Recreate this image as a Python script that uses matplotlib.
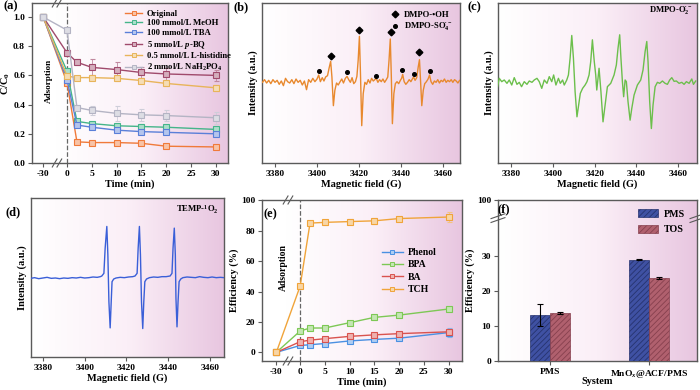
import numpy as np
import matplotlib.pyplot as plt
from matplotlib.colors import LinearSegmentedColormap, to_rgb
from matplotlib.lines import Line2D
from matplotlib.patches import Patch

W, H = 700, 390

# ---- (a) quenching tests ----
t_min = [-30, 0, 2, 5, 10, 15, 20, 30]
quench_labels = ['Original', '100 mmol/L MeOH', '100 mmol/L TBA',
                 r'5 mmol/L $\it{p}$-BQ', '0.5 mmol/L L-histidine',
                 r'2 mmol/L NaH$_2$PO$_4$']
c_original = [1.0, 0.55, 0.145, 0.14, 0.14, 0.135, 0.115, 0.11]
c_meoh = [1.0, 0.63, 0.285, 0.27, 0.255, 0.25, 0.245, 0.23]
c_tba = [1.0, 0.57, 0.26, 0.245, 0.225, 0.215, 0.21, 0.20]
c_pbq = [1.0, 0.755, 0.69, 0.655, 0.64, 0.62, 0.61, 0.60]
c_hist = [1.0, 0.595, 0.585, 0.585, 0.58, 0.565, 0.545, 0.515]
c_nah = [1.0, 0.91, 0.38, 0.36, 0.34, 0.33, 0.325, 0.31]
e_original = [0, 0.02, 0.01, 0.01, 0.01, 0.01, 0.01, 0.015]
e_meoh = [0, 0.02, 0.01, 0.01, 0.015, 0.015, 0.015, 0.015]
e_tba = [0, 0.02, 0.01, 0.01, 0.01, 0.01, 0.01, 0.01]
e_pbq = [0, 0.02, 0.02, 0.055, 0.05, 0.04, 0.04, 0.04]
e_hist = [0, 0.02, 0.01, 0.01, 0.015, 0.015, 0.015, 0.02]
e_nah = [0, 0.02, 0.015, 0.03, 0.05, 0.04, 0.04, 0.04]
quench_colors = ['#f07a3a', '#45b58a', '#5a7fd8', '#a04a6c', '#e8b45a', '#b4b4c4']

time_ticks = [-30, 0, 5, 10, 15, 20, 25, 30]

# ---- (b) DMPO-OH / DMPO-SO4 ----
b_field = [3374.0, 3375.0, 3376.0, 3377.0, 3378.0, 3379.0, 3380.0, 3381.0, 3382.0, 3383.0,
           3384.0, 3385.0, 3386.0, 3387.0, 3388.0, 3389.0, 3390.0, 3391.0, 3392.0, 3393.0,
           3394.0, 3395.0, 3396.0, 3397.0, 3398.0, 3399.0, 3400.0, 3400.8, 3401.6, 3402.5,
           3403.3, 3404.1, 3405.0, 3405.8, 3406.5, 3407.1, 3407.8, 3408.5, 3409.3, 3410.1,
           3411.0, 3411.8, 3412.6, 3413.5, 3414.3, 3415.1, 3415.9, 3416.7, 3417.5, 3418.3,
           3419.0, 3419.6, 3420.2, 3420.7, 3421.3, 3422.0, 3422.8, 3423.6, 3424.4, 3425.2,
           3426.0, 3426.8, 3427.5, 3428.2, 3429.0, 3429.8, 3430.6, 3431.4, 3432.2, 3433.0,
           3433.7, 3434.3, 3434.9, 3435.4, 3435.9, 3436.6, 3437.3, 3438.1, 3438.9, 3439.7,
           3440.3, 3440.8, 3441.5, 3442.3, 3443.1, 3443.9, 3444.7, 3445.4, 3446.0, 3446.7,
           3447.5, 3448.2, 3448.8, 3449.3, 3449.9, 3450.6, 3451.3, 3452.1, 3452.9, 3453.6,
           3454.3, 3455.1, 3455.9, 3456.7, 3457.5, 3458.3, 3459.1, 3459.9, 3460.7, 3461.5,
           3462.3, 3463.1, 3463.9, 3464.7, 3465.5, 3466.3, 3467.1, 3467.9, 3468.7]
b_int = [-6, 2, -8, 0, -10, 2, -6, 0, -12, -2,
         -16, 6, -4, -8, 2, -10, 4, -6, 0, -14,
         -2, -28, 2, -6, 6, -4, 4, 16, -4, 8,
         -2, 10, 14, 38, 57, 10, -76, -30, -8, -14,
         -4, 4, -8, 6, 12, 2, -6, 8, -10, -4,
         12, 60, 132, 20, -136, -40, -6, -12, 2, -8,
         6, -2, 2, 6, -6, 2, -4, 4, -6, 2,
         10, 60, 124, 10, -130, -40, -10, -4, -10, 0,
         6, 18, -4, -12, -6, 2, -4, 4, 10, 0,
         8, 40, 62, 0, -76, -30, -10, -4, 4, 16,
         -4, -12, -2, -6, 2, -8, 0, -4, 4, -6,
         0, -4, 2, -6, 2, -2, -8, 0, -2]
oh_field = [3406.5, 3420.2, 3435.0, 3448.7]
oh_int = [72, 152, 146, 84]
so4_field = [3401.1, 3414.2, 3428.2, 3440.7, 3446.0, 3453.6]
so4_int = [28, 26, 14, 30, 20, 28]

# ---- (c) DMPO-O2 ----
c_field = [3373.4, 3374.2, 3375.4, 3376.6, 3377.9, 3379.0, 3380.2, 3381.4, 3382.7, 3383.8,
           3384.9, 3386.2, 3387.5, 3388.6, 3389.9, 3391.0, 3392.3, 3393.4, 3394.6, 3395.8,
           3397.1, 3398.2, 3399.4, 3400.3, 3401.4, 3402.6, 3403.5, 3404.6, 3405.4, 3406.6, 3407.4,
           3408.2, 3409.0, 3409.8, 3410.6, 3411.5, 3412.3, 3413.1, 3414.2, 3415.4, 3416.3,
           3417.3, 3418.1, 3418.9, 3419.8, 3420.5, 3421.0, 3422.1, 3423.0, 3424.0, 3425.0,
           3426.1, 3427.7, 3429.3, 3430.4, 3431.2, 3432.0, 3432.6, 3433.3, 3433.9, 3434.6,
           3435.2, 3436.0, 3437.0, 3437.8, 3438.9, 3440.5, 3442.1, 3443.2, 3444.2, 3445.0,
           3445.6, 3446.4, 3447.2, 3448.0, 3449.0, 3450.1, 3451.2, 3452.5, 3453.8, 3454.9,
           3456.0, 3457.0, 3458.1, 3459.2, 3460.5, 3461.8, 3462.9, 3464.0, 3465.3, 3466.6,
           3467.4, 3468.5]
c_int = [-18, 7, -3, 2, -8, 2, -13, 9, -11, -5,
         -18, -3, -11, -1, -5, 2, 7, -3, -23, 2,
         -8, 12, -3, 17, -13, 7, -8, 2, -13, 2, 17,
         67, 135, 67, -33, -108, -73, -38, -23, -13, -3,
         17, 57, 122, 57, 17, -28, 37, -33, -123, -73,
         -18, -8, 17, 47, 97, 137, 67, -3, -48, 2,
         -3, -63, -118, -83, -43, -13, 2, 32, 87, 117,
         57, -63, -143, -73, -18, -5, -8, -1, -8, -11,
         2, 9, -2, -1, -8, -5, -11, -3, -8, 5,
         -11, -1]

# ---- (d) TEMP-1O2 ----
d_field = [3374.3, 3376, 3378, 3380, 3382, 3384, 3386, 3388, 3390, 3392,
           3394, 3396, 3398, 3400, 3402, 3404, 3406, 3407.5, 3408.2, 3409.2,
           3409.8, 3410.6, 3411.1, 3411.6, 3412.2, 3412.7, 3413.1, 3413.9, 3415, 3417,
           3419, 3421, 3423, 3424.1, 3425.1, 3425.6, 3426.2, 3426.7, 3427.2, 3427.8,
           3428.3, 3428.8, 3429.6, 3431, 3433, 3435, 3437, 3439, 3440.9, 3441.8,
           3442.3, 3442.9, 3443.4, 3443.7, 3444.2, 3444.7, 3445.2, 3446.0, 3447, 3449,
           3451, 3453, 3455, 3457, 3459, 3461, 3463, 3465, 3466.7]
d_int = [0, 2, -1, 1, 3, 0, 1, -1, 1, 0,
         2, 1, 3, 1, 2, 4, 3, 5, 7, 15,
         90, 155, 70, -70, -148, -70, -10, -2, 1, 3,
         2, 4, 5, 7, 15, 90, 155, 70, -70, -150,
         -70, -10, -2, 2, 4, 3, 5, 5, 7, 15,
         90, 150, 70, -60, -145, -70, -10, -2, 2, 4,
         3, 2, 5, 3, 2, 4, 2, 3, 2]

# ---- (e) pollutant removal ----
eff_labels = ['Phenol', 'BPA', 'BA', 'TCH']
eff_phenol = [0, 4.5, 5.0, 5.8, 7.5, 8.5, 9.3, 13.0]
eff_bpa = [0, 14.0, 16.0, 16.0, 19.5, 23.0, 24.5, 28.5]
eff_ba = [0, 7.0, 8.0, 9.0, 10.5, 11.5, 12.3, 13.5]
eff_tch = [0, 43.5, 85.0, 85.5, 86.0, 86.5, 88.0, 89.0]
err_phenol = [0.5, 1.0, 0.8, 0.8, 0.8, 0.8, 0.8, 3.0]
err_bpa = [0.5, 1.5, 1.0, 1.0, 1.0, 1.5, 1.0, 1.0]
err_ba = [0.5, 1.5, 1.5, 1.0, 1.0, 1.0, 1.0, 1.5]
err_tch = [0.5, 1.0, 1.5, 1.5, 1.5, 2.0, 1.0, 3.0]
eff_colors = ['#4a90e2', '#7dc855', '#d9534f', '#f0a43a']

# ---- (f) TOS vs PMS ----
systems = ['PMS', r'MnO$_x$@ACF/PMS']
bar_pms = [13.2, 29.1]
bar_pms_err = [3.2, 0.2]
bar_tos = [13.8, 23.8]
bar_tos_err = [0.2, 0.2]

plt.rcParams['font.family'] = ['Liberation Serif', 'DejaVu Serif']
plt.rcParams['font.weight'] = 'bold'
plt.rcParams['axes.labelweight'] = 'bold'
plt.rcParams['mathtext.fontset'] = 'custom'
plt.rcParams['mathtext.rm'] = 'Liberation Serif:bold'
plt.rcParams['mathtext.it'] = 'Liberation Serif:italic:bold'
plt.rcParams['mathtext.bf'] = 'Liberation Serif:bold'
plt.rcParams['hatch.linewidth'] = 0.6
plt.rcParams['axes.edgecolor'] = '#5a5a5a'
plt.rcParams['axes.linewidth'] = 1.0
plt.rcParams['xtick.color'] = '#5a5a5a'
plt.rcParams['ytick.color'] = '#5a5a5a'
plt.rcParams['xtick.labelcolor'] = 'black'
plt.rcParams['ytick.labelcolor'] = 'black'
plt.rcParams['xtick.labelsize'] = 6.8
plt.rcParams['ytick.labelsize'] = 6.8
plt.rcParams['axes.labelsize'] = 7.4
plt.rcParams['xtick.major.size'] = 3
plt.rcParams['ytick.major.size'] = 3
plt.rcParams['xtick.major.pad'] = 2
plt.rcParams['ytick.major.pad'] = 2

bg_cmap = LinearSegmentedColormap.from_list('bg', ['#ffffff', '#fbeff7', '#e8c6e0'])


def add_ax(fig, l, t, r, b):
    return fig.add_axes([l / W, 1 - b / H, (r - l) / W, (b - t) / H])


def shade(ax, start=0.0):
    g = np.linspace(0, 1, 256)
    g = np.clip((g - start) / (1 - start), 0, 1).reshape(1, -1)
    ax.imshow(g, cmap=bg_cmap, aspect='auto', extent=(0, 1, 0, 1),
              transform=ax.transAxes, zorder=0, interpolation='bilinear')


def tpos(t):
    # squeeze the -30..0 adsorption stage like the broken axis
    t = np.asarray(t, dtype=float)
    return np.where(t < 0, t * 0.16, t)


def tint(c, f=0.55):
    r, g, b = to_rgb(c)
    return (r + (1 - r) * f, g + (1 - g) * f, b + (1 - b) * f)


def slashes(ax, xf, yf, horiz=True):
    d = 0.012
    for off in (-0.012, 0.012):
        if horiz:
            ax.plot([xf + off - d, xf + off + d], [yf - 0.025, yf + 0.025],
                    transform=ax.transAxes, color='#5a5a5a', lw=0.8, clip_on=False, zorder=5)
        else:
            ax.plot([xf - 0.035, xf + 0.035], [yf + off - 0.015, yf + off + 0.015],
                    transform=ax.transAxes, color='#5a5a5a', lw=0.8, clip_on=False, zorder=5)


def ptext(fig, x, y, s, **kw):
    fig.text(x / W, 1 - y / H, s, va='center', **kw)


fig = plt.figure(figsize=(7, 3.9), dpi=100)

# (a)
ax = add_ax(fig, 32, 3, 228, 163)
shade(ax, 0.12)
series = [c_original, c_meoh, c_tba, c_pbq, c_hist, c_nah]
errs = [e_original, e_meoh, e_tba, e_pbq, e_hist, e_nah]
handles = []
for y, e, c, lab in zip(series, errs, quench_colors, quench_labels):
    ax.errorbar(tpos(t_min), y, yerr=e, color=c, lw=1.0, marker='s', ms=4.2,
                mfc=tint(c), mec=c, mew=0.8, capsize=1.8, elinewidth=0.6,
                ecolor=tint(c, 0.35), zorder=3)
    handles.append(Line2D([], [], color=c, lw=1.0, marker='s', ms=3.5, mfc=tint(c), mec=c, mew=0.7))
ax.axvline(0, ls='--', color='#666666', lw=0.9, zorder=2)
ax.text(-3.6, 0.56, 'Adsorption', rotation=90, ha='center', va='center', fontsize=6.6)
ax.set_xlim(-7.06, 32.46)
ax.set_ylim(0, 1.096)
ax.set_xticks(tpos(time_ticks))
ax.set_xticklabels([str(v) for v in time_ticks])
ax.set_yticks(np.arange(0, 1.01, 0.2))
ax.set_yticklabels(['%.1f' % v for v in np.arange(0, 1.01, 0.2)])
ax.set_xlabel('Time (min)', labelpad=1)
ax.set_ylabel(r'C/C$_0$', labelpad=1)
ax.legend(handles, quench_labels, loc='upper left', bbox_to_anchor=(0.44, 1.0),
          frameon=False, fontsize=6.2, labelspacing=0.18, handlelength=2.0,
          handletextpad=0.5, borderpad=0.3)
slashes(ax, (57 - 32) / 196, 1.0)
slashes(ax, (57 - 32) / 196, 0.0)

# (b)
ax = add_ax(fig, 262, 3, 460, 163)
shade(ax)
ax.plot(b_field, b_int, color='#e8892e', lw=1.0, zorder=3)
ax.plot(oh_field, oh_int, ls='none', marker='D', ms=3.4, color='black', zorder=4)
ax.plot(so4_field, so4_int, ls='none', marker='o', ms=2.6, color='black', zorder=4)
ax.set_xlim(3373.8, 3468.1)
ax.set_ylim(-248, 232)
ax.set_xticks([3380, 3400, 3420, 3440, 3460])
ax.set_yticks([])
ax.set_xlabel('Magnetic field (G)', labelpad=1)
ax.set_ylabel('Intensity (a.u.)', labelpad=3)
bh = [Line2D([], [], ls='none', marker='D', ms=3.4, color='black'),
      Line2D([], [], ls='none', marker='o', ms=2.6, color='black')]
ax.legend(bh, ['DMPO-•OH', r'DMPO-SO$_4^{\bullet-}$'], loc='upper right',
          frameon=False, fontsize=6.2, labelspacing=0.3, handlelength=1.0,
          handletextpad=0.5, borderpad=0.4)

# (c)
ax = add_ax(fig, 498, 3, 697, 163)
shade(ax)
ax.plot(c_field, c_int, color='#6cbf4c', lw=1.0, zorder=3)
ax.set_xlim(3373.6, 3469.1)
ax.set_ylim(-246, 232)
ax.set_xticks([3380, 3400, 3420, 3440, 3460])
ax.set_yticks([])
ax.set_xlabel('Magnetic field (G)', labelpad=1)
ax.set_ylabel('Intensity (a.u.)', labelpad=3)
ax.text(0.98, 0.95, r'DMPO-O$_2^{\bullet-}$', transform=ax.transAxes, ha='right', va='center', fontsize=6.2)

# (d)
ax = add_ax(fig, 31, 198, 224, 357)
shade(ax)
ax.plot(d_field, d_int, color='#3a5fd8', lw=1.0, zorder=3)
ax.set_xlim(3374.3, 3466.7)
ax.set_ylim(-235, 240)
ax.set_xticks([3380, 3400, 3420, 3440, 3460])
ax.set_yticks([])
ax.set_xlabel('Magnetic field (G)', labelpad=1)
ax.set_ylabel('Intensity (a.u.)', labelpad=3)
ax.text(0.97, 0.925, r'TEMP-$^1$O$_2$', transform=ax.transAxes, ha='right', va='center', fontsize=6.2)

# (e)
ax = add_ax(fig, 262, 200, 462, 361)
shade(ax, 0.12)
eff_series = [eff_phenol, eff_bpa, eff_ba, eff_tch]
eff_errs = [err_phenol, err_bpa, err_ba, err_tch]
eh = []
for y, e, c in zip(eff_series, eff_errs, eff_colors):
    ax.errorbar(tpos(t_min), y, yerr=e, color=c, lw=1.0, marker='s', ms=4.2,
                mfc=tint(c), mec=c, mew=0.8, capsize=1.8, elinewidth=0.6,
                ecolor=tint(c, 0.35), zorder=3)
    eh.append(Line2D([], [], color=c, lw=1.0, marker='s', ms=3.5, mfc=tint(c), mec=c, mew=0.7))
ax.axvline(0, ls='--', color='#666666', lw=0.9, zorder=2)
ax.text(-3.3, 56, 'Adsorption', rotation=90, ha='center', va='center', fontsize=7)
ax.set_xlim(-7.7, 32.7)
ax.set_ylim(-5.7, 100.2)
ax.set_xticks(tpos(time_ticks))
ax.set_xticklabels([str(v) for v in time_ticks])
ax.set_yticks([0, 20, 40, 60, 80, 100])
ax.set_xlabel('Time (min)', labelpad=1)
ax.set_ylabel('Efficiency (%)', labelpad=1)
ax.legend(eh, eff_labels, loc='upper left', bbox_to_anchor=(0.56, 0.75),
          frameon=False, fontsize=7, labelspacing=0.35, handlelength=2.2,
          handletextpad=0.5, borderpad=0.3)
slashes(ax, (288 - 262) / 200, 1.0)
slashes(ax, (288 - 262) / 200, 0.0)

# (f)
ax = add_ax(fig, 498, 200, 697, 361)
shade(ax)
xs = np.arange(len(systems))
bw = 0.2
ax.bar(xs - bw / 2, bar_pms, bw, yerr=bar_pms_err, color='#3f51a3', edgecolor='#26336e',
       hatch='//////', lw=0.5, capsize=2, error_kw=dict(elinewidth=0.8, capthick=0.8), zorder=3)
ax.bar(xs + bw / 2, bar_tos, bw, yerr=bar_tos_err, color='#b0606e', edgecolor='#86404e',
       hatch='//////', lw=0.5, capsize=2, error_kw=dict(elinewidth=0.8, capthick=0.8), zorder=3)
ax.set_xlim(-0.525, 1.485)
ax.set_ylim(0, 46.2)
ax.set_yticks([0, 10, 20, 30, 46.2])
ax.set_yticklabels(['0', '10', '20', '30', '100'])
ax.set_xticks(xs)
ax.set_xticklabels(systems)
ax.set_xlabel('System', labelpad=-2)
ax.set_ylabel('Efficiency (%)', labelpad=1)
fh = [Patch(facecolor='#3f51a3', edgecolor='#26336e', hatch='//////', lw=0.5),
      Patch(facecolor='#b0606e', edgecolor='#86404e', hatch='//////', lw=0.5)]
ax.legend(fh, ['PMS', 'TOS'], loc='upper left', bbox_to_anchor=(0.66, 1.0),
          frameon=False, fontsize=7.2, labelspacing=0.6, handlelength=2.0,
          handleheight=0.9, handletextpad=0.6, borderpad=0.4)
slashes(ax, 0.0, 41 / 46.2, horiz=False)
slashes(ax, 1.0, 41 / 46.2, horiz=False)

# panel letters
ptext(fig, 3, 6, '(a)', fontsize=9)
ptext(fig, 233, 7, '(b)', fontsize=9)
ptext(fig, 468, 7, '(c)', fontsize=9)
ptext(fig, 5, 212, '(d)', fontsize=9)
ptext(fig, 263, 214, '(e)', fontsize=9)
ptext(fig, 497, 209, '(f)', fontsize=9)

fig.savefig('out.png', dpi=100)
